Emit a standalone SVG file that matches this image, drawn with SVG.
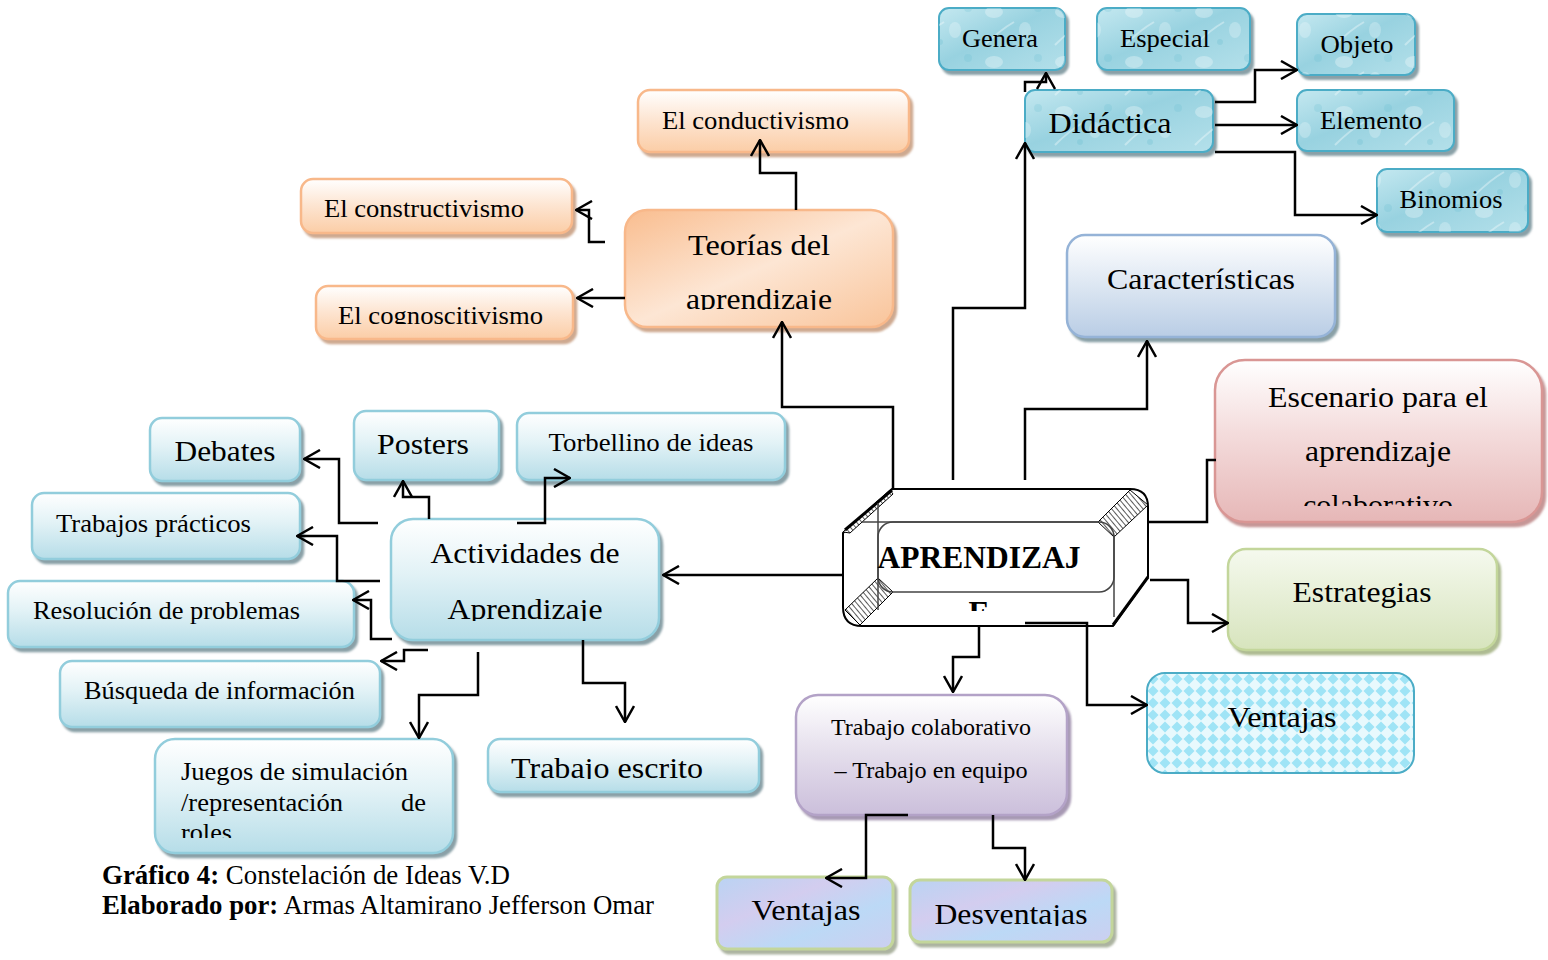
<svg xmlns="http://www.w3.org/2000/svg" width="1548" height="960" viewBox="0 0 1548 960">
<style>
text{font-family:"Liberation Serif","Times New Roman",serif;fill:#000}
.t30{font-size:30px}
.t26{font-size:26px}
.t24{font-size:24px}
.c{text-anchor:middle}
.conn path{fill:none;stroke:#000;stroke-width:2.5;marker-end:url(#arr)}
.conn path.nm{marker-end:none}
.teal{fill:url(#gTeal);stroke:#4bacc6;stroke-width:2;filter:url(#shB)}
.blue{fill:url(#gBlue);stroke:#92cddc;stroke-width:2.5;filter:url(#shB)}
.or{fill:url(#gOr);stroke:#f8b88a;stroke-width:2.5;filter:url(#shO)}
.bub{fill:url(#bub);stroke:none}
</style>
<defs>
<marker id="arr" markerUnits="userSpaceOnUse" viewBox="0 0 18 20" markerWidth="18" markerHeight="20" refX="17" refY="10" orient="auto">
<path d="M1,1 L17,10 L1,19" fill="none" stroke="#000" stroke-width="2.5"/>
</marker>
<filter id="shB" x="-10%" y="-10%" width="125%" height="130%"><feDropShadow dx="3" dy="4" stdDeviation="0.8" flood-color="#7d969d" flood-opacity="0.9"/></filter>
<filter id="shO" x="-10%" y="-10%" width="125%" height="130%"><feDropShadow dx="3" dy="4" stdDeviation="0.8" flood-color="#c9a084" flood-opacity="0.9"/></filter>
<filter id="shR" x="-10%" y="-10%" width="125%" height="130%"><feDropShadow dx="3" dy="4" stdDeviation="0.8" flood-color="#c08a8a" flood-opacity="0.9"/></filter>
<filter id="shG" x="-10%" y="-10%" width="125%" height="130%"><feDropShadow dx="3" dy="4" stdDeviation="0.8" flood-color="#a5b486" flood-opacity="0.9"/></filter>
<filter id="shP" x="-10%" y="-10%" width="125%" height="130%"><feDropShadow dx="3" dy="4" stdDeviation="0.8" flood-color="#9d8eab" flood-opacity="0.9"/></filter>
<filter id="shV" x="-10%" y="-10%" width="125%" height="130%"><feDropShadow dx="3" dy="4" stdDeviation="0.8" flood-color="#a3ab96" flood-opacity="0.9"/></filter>
<linearGradient id="gTeal" x1="0" y1="0" x2="1" y2="1">
<stop offset="0" stop-color="#c4e8f0"/><stop offset="0.45" stop-color="#98d2e0"/><stop offset="1" stop-color="#b4e0ea"/>
</linearGradient>
<pattern id="bub" patternUnits="userSpaceOnUse" width="70" height="50">
<ellipse cx="14" cy="12" rx="9" ry="6" fill="#ffffff" fill-opacity="0.3"/>
<ellipse cx="45" cy="30" rx="6" ry="8" fill="#ffffff" fill-opacity="0.25"/>
<circle cx="30" cy="42" r="3" fill="#5fb8cc" fill-opacity="0.25"/>
<circle cx="58" cy="8" r="4" fill="#5fb8cc" fill-opacity="0.2"/>
<path d="M5,45 Q20,30 34,22" stroke="#ffffff" stroke-opacity="0.35" stroke-width="2" fill="none"/>
</pattern>
<linearGradient id="gBlue" x1="0" y1="0" x2="0" y2="1">
<stop offset="0" stop-color="#ffffff"/><stop offset="0.45" stop-color="#e2f2f6"/><stop offset="1" stop-color="#b6dde8"/>
</linearGradient>
<linearGradient id="gOr" x1="0" y1="0" x2="0" y2="1">
<stop offset="0" stop-color="#ffffff"/><stop offset="0.5" stop-color="#fde4d0"/><stop offset="1" stop-color="#fbcda6"/>
</linearGradient>
<linearGradient id="gTeo" x1="0" y1="0" x2="1" y2="1">
<stop offset="0" stop-color="#f9bd8f"/><stop offset="0.5" stop-color="#fde6d4"/><stop offset="1" stop-color="#f9c49a"/>
</linearGradient>
<linearGradient id="gChar" x1="0" y1="0" x2="0" y2="1">
<stop offset="0" stop-color="#ffffff"/><stop offset="0.5" stop-color="#dce6f2"/><stop offset="1" stop-color="#b9cde5"/>
</linearGradient>
<linearGradient id="gEsc" x1="0" y1="0" x2="0" y2="1">
<stop offset="0" stop-color="#ffffff"/><stop offset="0.45" stop-color="#f4dcdc"/><stop offset="1" stop-color="#e6b7b7"/>
</linearGradient>
<linearGradient id="gEst" x1="0" y1="0" x2="0" y2="1">
<stop offset="0" stop-color="#f5f9ee"/><stop offset="1" stop-color="#d7e4bd"/>
</linearGradient>
<linearGradient id="gLav" x1="0" y1="0" x2="0" y2="1">
<stop offset="0" stop-color="#ffffff"/><stop offset="0.45" stop-color="#e6e0ed"/><stop offset="1" stop-color="#cbbfdb"/>
</linearGradient>
<linearGradient id="gVB" x1="0" y1="0" x2="1" y2="1">
<stop offset="0" stop-color="#bad3f3"/><stop offset="0.35" stop-color="#d3cdef"/><stop offset="0.65" stop-color="#bcd9f6"/><stop offset="1" stop-color="#cccff0"/>
</linearGradient>
<pattern id="dia" patternUnits="userSpaceOnUse" width="12" height="12" x="1147" y="673">
<rect width="12" height="12" fill="#e8f9fd"/>
<polygon points="6,0.5 11.5,6 6,11.5 0.5,6" fill="#9fe4f6"/>
</pattern>
<pattern id="hatch" patternUnits="userSpaceOnUse" width="4" height="4" patternTransform="rotate(-40)">
<rect width="4" height="4" fill="#fff"/>
<line x1="0" y1="0" x2="0" y2="4" stroke="#000" stroke-width="1.3"/>
</pattern>
<clipPath id="cCog"><rect x="310" y="280" width="280" height="44"/></clipPath>
<clipPath id="cTeo"><rect x="620" y="205" width="290" height="105"/></clipPath>
<clipPath id="cEsc"><rect x="1210" y="355" width="340" height="151"/></clipPath>
<clipPath id="cAct"><rect x="385" y="515" width="290" height="106"/></clipPath>
<clipPath id="cJue"><rect x="150" y="735" width="320" height="103"/></clipPath>
<clipPath id="cTE"><rect x="485" y="735" width="290" height="44"/></clipPath>
<clipPath id="cDes"><rect x="905" y="875" width="220" height="51"/></clipPath>
<clipPath id="cApr"><rect x="850" y="530" width="260" height="81"/></clipPath>
</defs>

<rect width="1548" height="960" fill="#ffffff"/>

<g id="n-aprendizaje">
<path d="M892,489 H1130 Q1148,489 1148,507 V577 L1113,626 H862 Q843,626 843,607 V533 Z" fill="#fff" stroke="#000" stroke-width="2"/>
<polygon points="1098,522 1130,490 1148,505 1114,537" fill="url(#hatch)" stroke="#000" stroke-width="1"/>
<polygon points="845,610 878,578 893,592 860,625" fill="url(#hatch)" stroke="#000" stroke-width="1"/>
<polygon points="843,532 890,490 893,494 850,533" fill="url(#hatch)" stroke="#000" stroke-width="1"/>
<line x1="845" y1="530" x2="892" y2="490" stroke="#000" stroke-width="3"/>
<line x1="1148" y1="577" x2="1113" y2="625" stroke="#000" stroke-width="3"/>
<rect x="878" y="522" width="236" height="70" rx="15" fill="none" stroke="#444" stroke-width="1.5"/>
<line x1="862" y1="522" x2="1098" y2="522" stroke="#444" stroke-width="1.5"/>
<line x1="878" y1="503" x2="878" y2="610" stroke="#444" stroke-width="1.5"/>
<line x1="1114" y1="535" x2="1114" y2="617" stroke="#444" stroke-width="1.5"/>
<text x="979" y="568" class="c" font-size="31.5" font-weight="bold" textLength="203" lengthAdjust="spacingAndGlyphs">APRENDIZAJ</text>
<text x="979" y="623" class="c" font-size="31.5" font-weight="bold" clip-path="url(#cApr)">E</text>
</g>

<g id="n-genera"><rect class="teal" x="939" y="8" width="126" height="62" rx="10"/><rect class="bub" x="939" y="8" width="126" height="62" rx="10"/><text x="1000" y="47" class="c t26" textLength="76" lengthAdjust="spacingAndGlyphs">Genera</text></g>
<g id="n-especial"><rect class="teal" x="1097" y="8" width="153" height="62" rx="10"/><rect class="bub" x="1097" y="8" width="153" height="62" rx="10"/><text x="1165" y="47" class="c t26" textLength="90" lengthAdjust="spacingAndGlyphs">Especial</text></g>
<g id="n-objeto"><rect class="teal" x="1297" y="14" width="118" height="61" rx="10"/><rect class="bub" x="1297" y="14" width="118" height="61" rx="10"/><text x="1357" y="53" class="c t26" textLength="73" lengthAdjust="spacingAndGlyphs">Objeto</text></g>
<g id="n-didactica"><rect class="teal" x="1025" y="90" width="188" height="62" rx="10"/><rect class="bub" x="1025" y="90" width="188" height="62" rx="10"/><text x="1110" y="133" class="c t30" textLength="123" lengthAdjust="spacingAndGlyphs">Didáctica</text></g>
<g id="n-elemento"><rect class="teal" x="1297" y="90" width="157" height="61" rx="10"/><rect class="bub" x="1297" y="90" width="157" height="61" rx="10"/><text x="1371" y="129" class="c t26" textLength="102" lengthAdjust="spacingAndGlyphs">Elemento</text></g>
<g id="n-binomios"><rect class="teal" x="1377" y="169" width="151" height="63" rx="10"/><rect class="bub" x="1377" y="169" width="151" height="63" rx="10"/><text x="1451" y="208" class="c t26" textLength="103" lengthAdjust="spacingAndGlyphs">Binomios</text></g>

<g id="n-conductivismo"><rect class="or" x="638" y="90" width="271" height="62" rx="12"/><text x="662" y="129" class="t26" textLength="187" lengthAdjust="spacingAndGlyphs">El conductivismo</text></g>
<g id="n-constructivismo"><rect class="or" x="301" y="179" width="271" height="54" rx="12"/><text x="324" y="217" class="t26" textLength="200" lengthAdjust="spacingAndGlyphs">El constructivismo</text></g>
<g id="n-cognoscitivismo"><rect class="or" x="316" y="286" width="257" height="53" rx="12"/><text x="338" y="324" class="t26" textLength="205" lengthAdjust="spacingAndGlyphs" clip-path="url(#cCog)">El cognoscitivismo</text></g>
<g id="n-teorias"><rect x="625" y="210" width="268" height="117" rx="22" fill="url(#gTeo)" stroke="#f8b88a" stroke-width="2.5" filter="url(#shO)"/><text x="759" y="255" class="c t30" textLength="142" lengthAdjust="spacingAndGlyphs">Teorías del</text><text x="759" y="309" class="c t30" textLength="146" lengthAdjust="spacingAndGlyphs" clip-path="url(#cTeo)">aprendizaje</text></g>

<g id="n-caracteristicas"><rect x="1067" y="235" width="268" height="102" rx="18" fill="url(#gChar)" stroke="#95b3d7" stroke-width="2.5" filter="url(#shB)"/><text x="1201" y="289" class="c t30" textLength="188" lengthAdjust="spacingAndGlyphs">Características</text></g>
<g id="n-escenario"><rect x="1215" y="360" width="327" height="162" rx="30" fill="url(#gEsc)" stroke="#d99694" stroke-width="2.5" filter="url(#shR)"/><text x="1378" y="407" class="c t30" textLength="220" lengthAdjust="spacingAndGlyphs">Escenario para el</text><text x="1378" y="461" class="c t30" textLength="146" lengthAdjust="spacingAndGlyphs">aprendizaje</text><text x="1378" y="515" class="c t30" textLength="150" lengthAdjust="spacingAndGlyphs" clip-path="url(#cEsc)">colaborativo</text></g>
<g id="n-estrategias"><rect x="1228" y="549" width="269" height="101" rx="18" fill="url(#gEst)" stroke="#c3d69b" stroke-width="2.5" filter="url(#shG)"/><text x="1362" y="602" class="c t30" textLength="139" lengthAdjust="spacingAndGlyphs">Estrategias</text></g>
<g id="n-ventajas-r"><rect x="1147" y="673" width="267" height="100" rx="18" fill="url(#dia)" stroke="#4bacc6" stroke-width="2"/><text x="1282" y="727" class="c t30" textLength="109" lengthAdjust="spacingAndGlyphs">Ventajas</text></g>
<g id="n-colaborativo"><rect x="796" y="695" width="271" height="120" rx="22" fill="url(#gLav)" stroke="#b3a2c7" stroke-width="2.5" filter="url(#shP)"/><text x="931" y="735" class="c t24" textLength="200" lengthAdjust="spacingAndGlyphs">Trabajo colaborativo</text><text x="931" y="778" class="c t24" textLength="193" lengthAdjust="spacingAndGlyphs">– Trabajo en equipo</text></g>
<g id="n-ventajas-b"><rect x="717" y="877" width="176" height="72" rx="10" fill="url(#gVB)" stroke="#c3d69b" stroke-width="3" filter="url(#shV)"/><text x="806" y="920" class="c t30" textLength="109" lengthAdjust="spacingAndGlyphs">Ventajas</text></g>
<g id="n-desventajas"><rect x="910" y="880" width="202" height="62" rx="10" fill="url(#gVB)" stroke="#c3d69b" stroke-width="3" filter="url(#shV)"/><text x="1011" y="924" class="c t30" textLength="153" lengthAdjust="spacingAndGlyphs" clip-path="url(#cDes)">Desventajas</text></g>

<g id="n-actividades"><rect class="blue" x="391" y="519" width="268" height="121" rx="22"/><text x="525" y="563" class="c t30" textLength="189" lengthAdjust="spacingAndGlyphs">Actividades de</text><text x="525" y="619" class="c t30" textLength="155" lengthAdjust="spacingAndGlyphs" clip-path="url(#cAct)">Aprendizaje</text></g>
<g id="n-posters"><rect class="blue" x="354" y="411" width="145" height="69" rx="12"/><text x="423" y="454" class="c t30" textLength="92" lengthAdjust="spacingAndGlyphs">Posters</text></g>
<g id="n-torbellino"><rect class="blue" x="517" y="413" width="268" height="67" rx="12"/><text x="651" y="451" class="c t26" textLength="205" lengthAdjust="spacingAndGlyphs">Torbellino de ideas</text></g>
<g id="n-debates"><rect class="blue" x="150" y="418" width="150" height="63" rx="12"/><text x="225" y="461" class="c t30" textLength="101" lengthAdjust="spacingAndGlyphs">Debates</text></g>
<g id="n-practicos"><rect class="blue" x="32" y="493" width="268" height="66" rx="12"/><text x="56" y="532" class="t26" textLength="195" lengthAdjust="spacingAndGlyphs">Trabajos prácticos</text></g>
<g id="n-resolucion"><rect class="blue" x="8" y="581" width="346" height="66" rx="12"/><text x="33" y="619" class="t26" textLength="267" lengthAdjust="spacingAndGlyphs">Resolución de problemas</text></g>
<g id="n-busqueda"><rect class="blue" x="60" y="661" width="320" height="66" rx="12"/><text x="84" y="699" class="t26" textLength="271" lengthAdjust="spacingAndGlyphs">Búsqueda de información</text></g>
<g id="n-juegos"><rect class="blue" x="155" y="739" width="298" height="114" rx="20"/><g clip-path="url(#cJue)"><text x="181" y="780" class="t26" textLength="227" lengthAdjust="spacingAndGlyphs">Juegos de simulación</text><text x="181" y="811" class="t26" textLength="162" lengthAdjust="spacingAndGlyphs">/representación</text><text x="401" y="811" class="t26" textLength="25" lengthAdjust="spacingAndGlyphs">de</text><text x="181" y="841" class="t26" textLength="51" lengthAdjust="spacingAndGlyphs">roles</text></g></g>
<g id="n-escrito"><rect class="blue" x="488" y="739" width="271" height="53" rx="12"/><text x="511" y="778" class="t30" textLength="192" lengthAdjust="spacingAndGlyphs" clip-path="url(#cTE)">Trabajo escrito</text></g>

<g class="conn" id="connectors">
<path d="M893,489 V407 H782 V322"/>
<path d="M953,480 V308 H1025 V143"/>
<path d="M1025,480 V409 H1147 V341"/>
<path class="nm" d="M1148,522 H1207 V460 H1216"/>
<path d="M1150,580 H1188 V623 H1228"/>
<path d="M1025,623 H1087 V705 H1147"/>
<path d="M979,626 V657 H953 V692"/>
<path d="M843,575 H663"/>
<path d="M908,815 H866 V878 H826"/>
<path d="M993,815 V848 H1025 V880"/>
<path d="M1215,102 H1255 V70 H1297"/>
<path d="M1215,125 H1297"/>
<path d="M1215,152 H1295 V215 H1377"/>
<path d="M1025,92 V82 H1046 V73"/>
<path d="M796,210 V173 H760 V140"/>
<path d="M605,242 H589 V210 H576"/>
<path d="M625,298 H577"/>
<path d="M429,519 V497 H403 V481"/>
<path d="M517,523 H545 V478 H570"/>
<path d="M378,523 H339 V459 H304"/>
<path d="M380,581 H337 V536 H297"/>
<path d="M392,639 H371 V600 H353"/>
<path d="M428,650 H404 V661 H381"/>
<path d="M478,652 V695 H419 V738"/>
<path d="M583,640 V683 H625 V722"/>
</g>

<g id="caption">
<text x="102" y="884" font-size="26.5" textLength="408" lengthAdjust="spacingAndGlyphs"><tspan font-weight="bold">Gráfico 4:</tspan> Constelación de Ideas V.D</text>
<text x="102" y="914" font-size="26.5" textLength="552" lengthAdjust="spacingAndGlyphs"><tspan font-weight="bold">Elaborado por:</tspan> Armas Altamirano Jefferson Omar</text>
</g>
</svg>
